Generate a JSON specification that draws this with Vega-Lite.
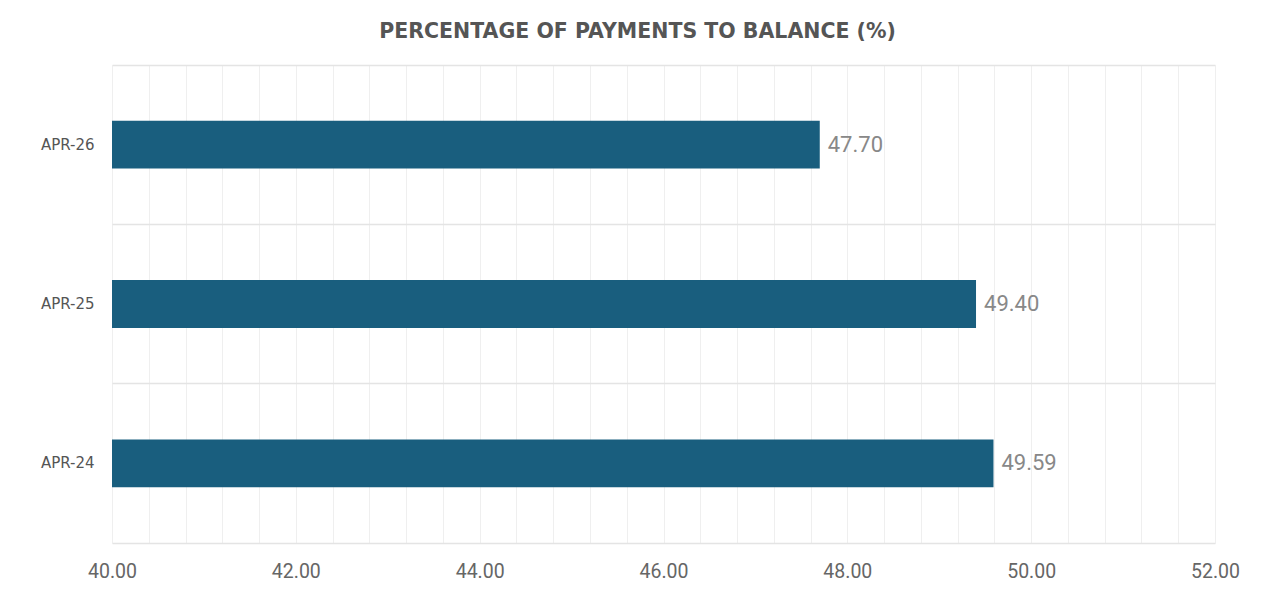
{
  "$schema": "https://vega.github.io/schema/vega-lite/v6.json",
  "width": 1103,
  "height": 478,
  "autosize": "none",
  "padding": {"left": 112, "top": 65, "right": 63, "bottom": 63},
  "background": "white",
  "title": {
    "text": "PERCENTAGE OF PAYMENTS TO BALANCE (%)",
    "font": "DejaVu Sans",
    "fontSize": 20.5,
    "fontWeight": "bold",
    "color": "#555555",
    "offset": 23,
    "dx": -26,
    "frame": "group"
  },
  "data": {
    "values": [
      {"Period": "APR-26", "Pct": 47.70},
      {"Period": "APR-25", "Pct": 49.40},
      {"Period": "APR-24", "Pct": 49.59}
    ]
  },
  "encoding": {
    "y": {
      "field": "Period",
      "type": "nominal",
      "sort": null,
      "title": null,
      "scale": {"paddingInner": 0, "paddingOuter": 0},
      "axis": {
        "grid": true,
        "gridColor": "#e4e4e4",
        "gridWidth": 1.5,
        "bandPosition": 0,
        "domain": false,
        "ticks": false,
        "labelPadding": 18,
        "labelFont": "DejaVu Sans",
        "labelFontSize": 15,
        "labelColor": "#555555"
      }
    },
    "x": {
      "field": "Pct",
      "type": "quantitative",
      "title": null,
      "scale": {"domain": [40, 52], "zero": false, "nice": false},
      "axis": {
        "values": [40, 40.4, 40.8, 41.2, 41.6, 42, 42.4, 42.8, 43.2, 43.6, 44, 44.4, 44.8, 45.2, 45.6, 46, 46.4, 46.8, 47.2, 47.6, 48, 48.4, 48.8, 49.2, 49.6, 50, 50.4, 50.8, 51.2, 51.6, 52],
        "labelExpr": "abs(datum.value % 2) < 0.001 ? format(datum.value, '.2f') : ''",
        "labelOverlap": false,
        "labelFlush": false,
        "grid": true,
        "gridColor": "#efefef",
        "domainColor": "#e4e4e4",
        "domainWidth": 1.5,
        "ticks": false,
        "labelPadding": 19,
        "labelFont": "Roboto",
        "labelFontSize": 19.5,
        "labelColor": "#666666"
      }
    }
  },
  "layer": [
    {
      "mark": {"type": "bar", "color": "#195e7e", "height": {"band": 0.3}, "clip": true}
    },
    {
      "mark": {"type": "text", "align": "left", "dx": 8, "font": "Roboto", "fontSize": 22, "color": "#888888"},
      "encoding": {
        "text": {"field": "Pct", "type": "quantitative", "format": ".2f"}
      }
    }
  ],
  "config": {"view": {"stroke": null}}
}
